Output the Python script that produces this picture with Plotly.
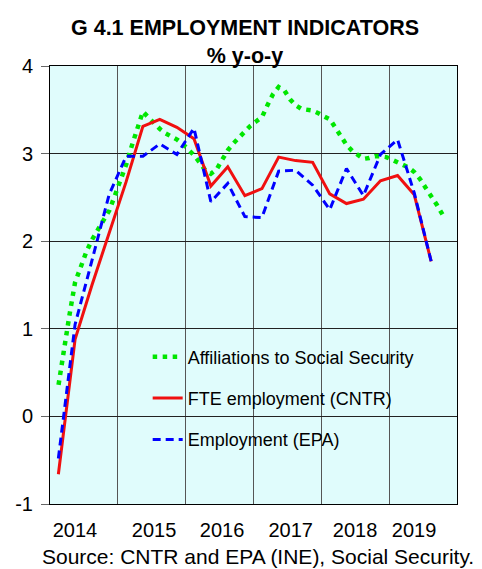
import plotly.graph_objects as go
import pandas as pd

# monthly, Feb 2014 - Oct 2019
affiliations = [0.36, 0.78, 1.16, 1.53, 1.71, 1.88, 2.02, 2.14, 2.24, 2.35, 2.52,
                2.70, 2.88, 3.08, 3.30, 3.48, 3.41, 3.34, 3.28, 3.23, 3.20, 3.16, 3.11,
                3.05, 2.98, 2.90, 2.81, 2.77, 2.82, 2.93, 3.04, 3.12, 3.19, 3.26, 3.32,
                3.37, 3.42, 3.55, 3.68, 3.76, 3.72, 3.62, 3.55, 3.51, 3.50, 3.49, 3.46,
                3.43, 3.39, 3.30, 3.19, 3.10, 3.03, 2.98, 2.94, 2.95, 2.97, 2.97, 2.96,
                2.93, 2.90, 2.87, 2.84, 2.79, 2.71, 2.61, 2.52, 2.41, 2.30]

# quarterly, 2014Q1 - 2019Q3
fte_cntr = [-0.66, 0.88, 1.50, 2.10, 2.68, 3.31, 3.39, 3.30, 3.17, 2.63, 2.85, 2.52,
            2.60, 2.96, 2.92, 2.90, 2.54, 2.43, 2.48, 2.69, 2.75, 2.53, 1.77]
epa = [-0.48, 1.05, 1.78, 2.53, 2.97, 2.97, 3.11, 2.99, 3.29, 2.45, 2.66, 2.28,
       2.27, 2.80, 2.81, 2.64, 2.36, 2.83, 2.52, 2.99, 3.16, 2.55, 1.77]

year_labels = ["2014", "2015", "2016", "2017", "2018", "2019"]
year_label_pos = ["2014-05-15", "2015-07-15", "2016-07-15", "2017-07-20",
                  "2018-07-01", "2019-05-15"]
y_ticks = [-1, 0, 1, 2, 3, 4]
y_labels = ["-1", "0", "1", "2", "3", "4"]

months = pd.date_range("2014-02-01", periods=len(affiliations), freq="MS") + pd.Timedelta(days=15)
quarters = pd.date_range("2014-01-01", periods=len(fte_cntr), freq="QS") + pd.Timedelta(days=45)

fig = go.Figure()
fig.add_trace(go.Scatter(x=months, y=affiliations, mode="lines",
                         name="Affiliations to Social Security", legendgroup="a",
                         line=dict(color="#00e600", width=4.5, dash="4.5px,5.5px")))
fig.add_trace(go.Scatter(x=quarters, y=fte_cntr, mode="lines",
                         name="FTE employment (CNTR)", legendgroup="b",
                         line=dict(color="#f01010", width=3)))
fig.add_trace(go.Scatter(x=quarters, y=epa, mode="lines",
                         name="Employment (EPA)", legendgroup="c",
                         line=dict(color="#0000ff", width=3, dash="8px,5px")))

# the page body adds an 8px margin at top-left, so the figure is 8px smaller
fig.update_layout(
    width=474, height=561,
    margin=dict(l=42, r=25, t=58, b=65, autoexpand=False),
    paper_bgcolor="white", plot_bgcolor="#e0fcfc",
    font=dict(family="Liberation Sans, Arial", size=20, color="black"),
    title=dict(text="<b>G 4.1 EMPLOYMENT INDICATORS<br>% y-o-y</b>",
               x=0.5, xanchor="center", y=0.9523, yanchor="top",
               font=dict(size=21.5)),
    legend=dict(x=0.24, y=0.378, xanchor="left", yanchor="top",
                bgcolor="rgba(0,0,0,0)", font=dict(size=18), tracegroupgap=15),
    xaxis=dict(type="date", range=["2014-01-01", "2020-01-01"],
               tickvals=year_label_pos, ticktext=year_labels,
               ticks="", ticklabelstandoff=8, automargin=False, showgrid=False,
               minor=dict(dtick="M12", tick0="2014-01-01", ticks="",
                          showgrid=True, gridcolor="#555555", gridwidth=1),
               showline=True, mirror=True, linecolor="black", linewidth=1),
    yaxis=dict(range=[-1, 4], tickvals=y_ticks, ticktext=y_labels,
               ticks="outside", ticklen=8, automargin=False,
               tickcolor="#666666", ticklabelstandoff=4,
               showgrid=True, gridcolor="#222222", gridwidth=1, zeroline=False,
               showline=True, mirror=True, linecolor="black", linewidth=1),
    annotations=[dict(text="Source: CNTR and EPA (INE), Social Security.",
                      xref="paper", yref="paper", x=0.512, y=-0.12,
                      xanchor="center", yanchor="middle", showarrow=False,
                      font=dict(size=21))],
)

fig.write_html("out.html")
